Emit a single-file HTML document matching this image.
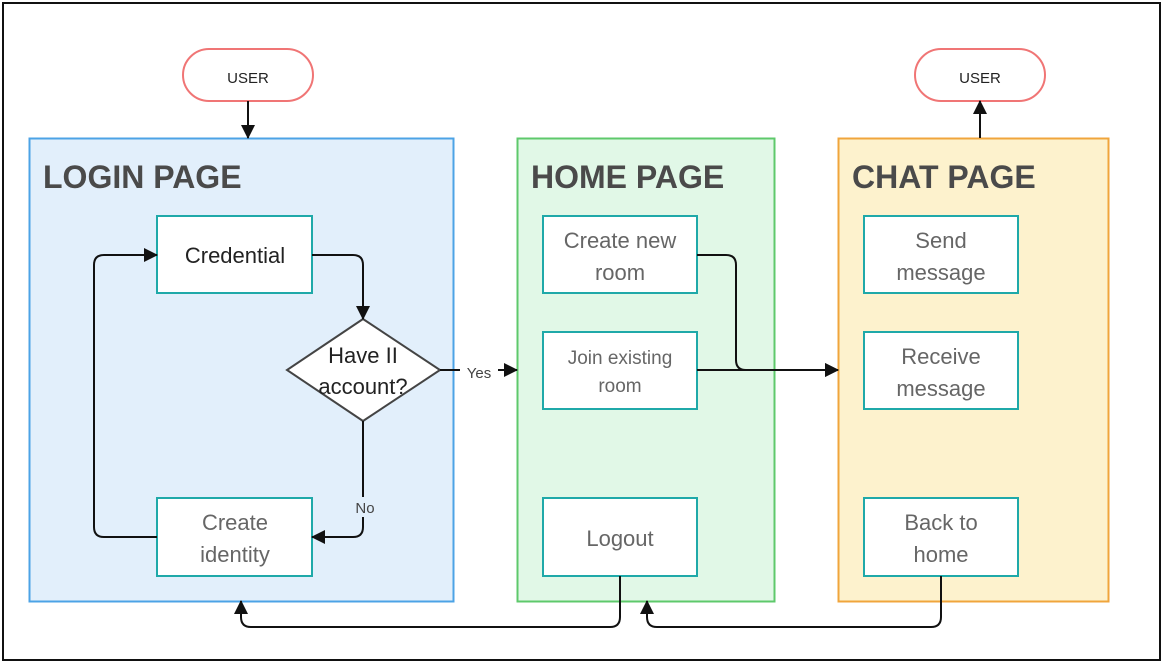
<!DOCTYPE html>
<html><head><meta charset="utf-8"><style>
html,body{margin:0;padding:0;background:#fff;width:1163px;height:663px;overflow:hidden}
text{font-family:"Liberation Sans","DejaVu Sans",sans-serif}
</style></head><body>
<svg width="1163" height="663" viewBox="0 0 1163 663" xmlns="http://www.w3.org/2000/svg">
<defs><marker id="a" markerWidth="14" markerHeight="14" refX="13" refY="7" orient="auto" markerUnits="userSpaceOnUse"><path d="M0,0 L14,7 L0,14 z" fill="#111"/></marker></defs>
<rect x="3" y="3" width="1157" height="657" fill="#fff" stroke="#111" stroke-width="2"/>
<rect x="29.5" y="138.5" width="424" height="463" fill="#e2effb" stroke="#4ca3e6" stroke-width="2"/>
<rect x="517.5" y="138.5" width="257" height="463" fill="#e1f8e7" stroke="#5ec96b" stroke-width="2"/>
<rect x="838.5" y="138.5" width="270" height="463" fill="#fdf2cd" stroke="#f0a53c" stroke-width="2"/>
<g font-size="32" fill="#4a4a4a" font-weight="bold">
<text x="43" y="188">LOGIN PAGE</text><text x="531" y="188">HOME PAGE</text><text x="852" y="188">CHAT PAGE</text></g>
<rect x="183" y="49" width="130" height="52" rx="26" fill="#fff" stroke="#f07575" stroke-width="2"/>
<rect x="915" y="49" width="130" height="52" rx="26" fill="#fff" stroke="#f07575" stroke-width="2"/>
<g font-size="15" fill="#222" text-anchor="middle"><text x="248" y="83">USER</text><text x="980" y="83">USER</text></g>
<g fill="#fff" stroke="#1fa9a9" stroke-width="2">
<rect x="157" y="216" width="155" height="77"/><rect x="157" y="498" width="155" height="78"/>
<rect x="543" y="216" width="154" height="77"/><rect x="543" y="332" width="154" height="77"/><rect x="543" y="498" width="154" height="78"/>
<rect x="864" y="216" width="154" height="77"/><rect x="864" y="332" width="154" height="77"/><rect x="864" y="498" width="154" height="78"/>
</g>
<polygon points="363,319 440,370 363,421 287,370" fill="#fff" stroke="#444" stroke-width="2"/>
<g font-size="22" text-anchor="middle" fill="#666">
<text x="235" y="263" fill="#222">Credential</text>
<text x="363" y="363" fill="#222">Have II</text><text x="363" y="394" fill="#222">account?</text>
<text x="235" y="530">Create</text><text x="235" y="562">identity</text>
<text x="620" y="248">Create new</text><text x="620" y="280">room</text>
<text x="620" y="364" font-size="19">Join existing</text><text x="620" y="392" font-size="19">room</text>
<text x="620" y="546">Logout</text>
<text x="941" y="248">Send</text><text x="941" y="280">message</text>
<text x="941" y="364">Receive</text><text x="941" y="396">message</text>
<text x="941" y="530">Back to</text><text x="941" y="562">home</text>
</g>
<g fill="none" stroke="#111" stroke-width="2" marker-end="url(#a)">
<path d="M248,101 V138"/>
<path d="M312,255 H353 Q363,255 363,265 V319"/>
<path d="M440,370 H517"/>
<path d="M363,421 V527 Q363,537 353,537 H312"/>
<path d="M157,537 H104 Q94,537 94,527 V265 Q94,255 104,255 H157"/>
<path d="M697,255 H726 Q736,255 736,265 V360 Q736,370 746,370 H838"/>
<path d="M697,370 H838"/>
<path d="M620,576 V617 Q620,627 610,627 H251 Q241,627 241,617 V601"/>
<path d="M941,576 V617 Q941,627 931,627 H657 Q647,627 647,617 V601"/>
<path d="M980,138 V101"/>
</g>
<rect x="460" y="362" width="38" height="20" fill="#fff"/>
<text x="479" y="378" font-size="15" fill="#444" text-anchor="middle">Yes</text>
<rect x="350" y="497" width="30" height="20" fill="#e2effb"/>
<text x="365" y="513" font-size="15" fill="#444" text-anchor="middle">No</text>
</svg>
</body></html>
